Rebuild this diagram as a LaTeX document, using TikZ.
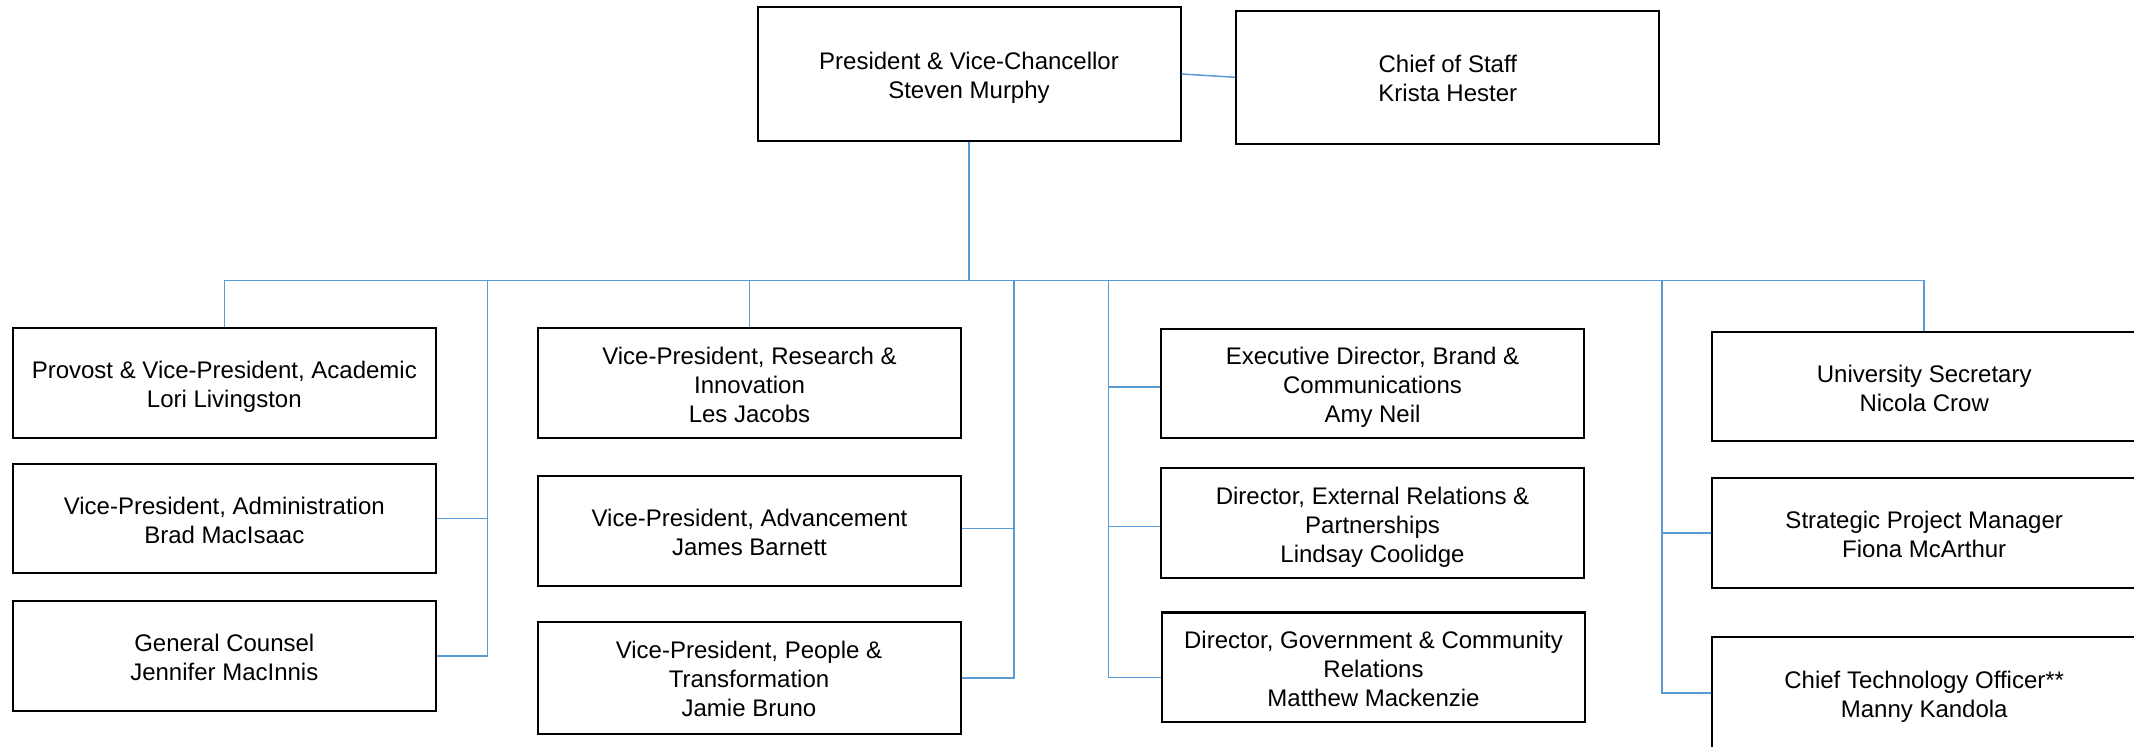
\documentclass[tikz,border=0pt]{standalone}
\usepackage{fontspec}
\setmainfont{Liberation Sans}
\definecolor{conn}{RGB}{91,155,213}
\newcommand\tstr{\rule{0pt}{12.7pt}}
\newcommand\bstr{\rule[-2.6pt]{0pt}{2.6pt}}
\begin{document}
\begin{tikzpicture}[x=0.5pt,y=-0.5pt,
  box/.style={draw=black,line width=1pt,fill=white,rectangle,inner sep=0pt,
    align=center,font=\fontsize{12}{14.5}\selectfont,text=black,
    minimum width=211.5pt,minimum height=54.7pt},
  tall/.style={minimum height=56.2pt},
  top/.style={minimum height=67pt},
  link/.style={draw=conn,line width=0.75pt}]
\useasboundingbox (0,0) rectangle (2134,747);
% top level
\node[box,top] (pres) at (969,74) {\tstr President \& Vice-Chancellor\\Steven Murphy\bstr};
\node[box,top,minimum height=66.7pt] (cos) at (1447.8,77.3) {\tstr Chief of Staff\\Krista Hester\bstr};
% column 1
\node[box] (prov) at (224.3,383) {\tstr Provost \& Vice-President, Academic\\Lori Livingston\bstr};
\node[box] (admin) at (224.3,518.5) {\tstr Vice-President, Administration\\Brad MacIsaac\bstr};
\node[box] (gc) at (224.3,656.2) {\tstr General Counsel\\Jennifer MacInnis\bstr};
% column 2
\node[box] (res) at (749.5,383) {\tstr Vice-President, Research \&\\Innovation\\Les Jacobs\bstr};
\node[box] (adv) at (749.5,531) {\tstr Vice-President, Advancement\\James Barnett\bstr};
\node[box,tall] (ppl) at (749,677.8) {\tstr Vice-President, People \&\\Transformation\\Jamie Bruno\bstr};
% column 3
\node[box] (brand) at (1372.5,383.5) {\tstr Executive Director, Brand \&\\Communications\\Amy Neil\bstr};
\node[box] (ext) at (1372.5,523.2) {\tstr Director, External Relations \&\\Partnerships\\Lindsay Coolidge\bstr};
\node[box] (gov) at (1373.5,667.2) {\tstr Director, Government \& Community\\Relations\\Matthew Mackenzie\bstr};
% column 4
\node[box,minimum width=212pt] (sec) at (1924.2,386.5) {\tstr University Secretary\\Nicola Crow\bstr};
\node[box,minimum width=212pt] (spm) at (1924.2,533) {\tstr Strategic Project Manager\\Fiona McArthur\bstr};
\node[box,tall,minimum width=212pt] (cto) at (1924.2,693) {\tstr Chief Technology Officer**\\Manny Kandola\bstr};
% connectors
\coordinate (bus) at (969,280.3);
\coordinate (c1) at (487.5,280.3);
\coordinate (c2) at (1014,280.3);
\coordinate (c3) at (1108.6,280.3);
\coordinate (c4) at (1662,280.3);
\draw[link] (pres.east) -- (cos.west);
\draw[link] (pres.south) -- (bus);
\draw[link] (prov.north) -- (prov.north |- bus) -- (sec.north |- bus) -- (sec.north);
\draw[link] (res.north) -- (res.north |- bus);
% column 1 branches
\draw[link] (c1) -- (c1 |- gc.east) -- (gc.east);
\draw[link] (c1 |- admin.east) -- (admin.east);
% column 2 branches
\draw[link] (c2) -- (c2 |- ppl.east) -- (ppl.east);
\draw[link] ([yshift=1.35pt]c2 |- adv.east) -- ([yshift=1.35pt]adv.east);
% column 3 branches
\draw[link] (c3) -- ([yshift=-5.25pt]c3 |- gov.west) -- ([yshift=-5.25pt]gov.west);
\draw[link] ([yshift=-1.75pt]c3 |- brand.west) -- ([yshift=-1.75pt]brand.west);
\draw[link] ([yshift=-1.55pt]c3 |- ext.west) -- ([yshift=-1.55pt]ext.west);
% column 4 branches
\draw[link] (c4) -- (c4 |- cto.west) -- (cto.west);
\draw[link] (c4 |- spm.west) -- (spm.west);
\end{tikzpicture}
\end{document}
